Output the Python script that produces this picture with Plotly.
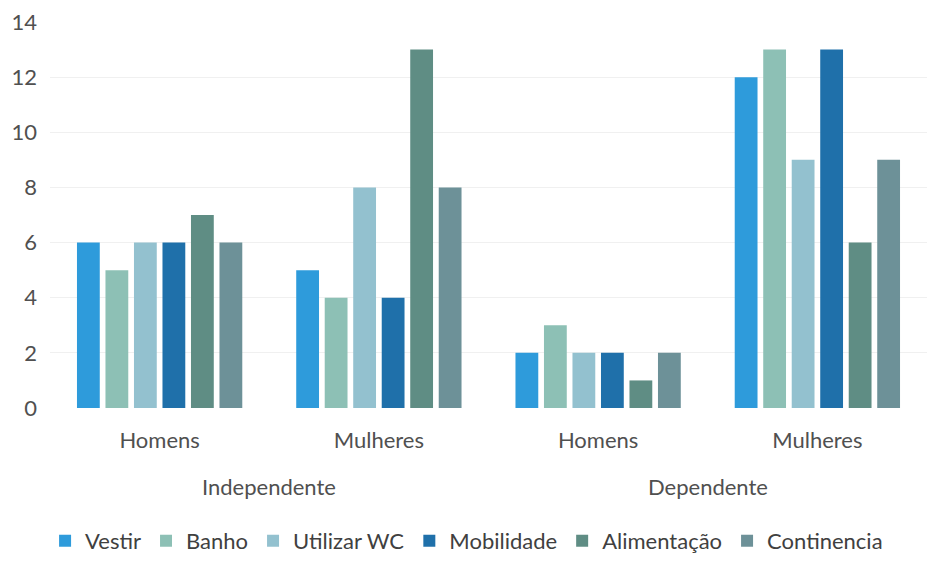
import plotly.graph_objects as go

groups = ["Independente", "Independente", "Dependente", "Dependente"]
sexes = ["Homens", "Mulheres", "Homens", "Mulheres"]
group_labels = ["Independente", "Dependente"]
series_names = ["Vestir", "Banho", "Utilizar WC", "Mobilidade", "Alimentação", "Continencia"]
vestir = [6, 5, 2, 12]
banho = [5, 4, 3, 13]
utilizar_wc = [6, 8, 2, 9]
mobilidade = [6, 4, 2, 13]
alimentacao = [7, 13, 1, 6]
continencia = [6, 8, 2, 9]
y_ticks = [0, 2, 4, 6, 8, 10, 12, 14]

colors = ["#2E9BDB", "#8DC0B5", "#93C1CF", "#1F70AA", "#5F8D84", "#6D9198"]
values = [vestir, banho, utilizar_wc, mobilidade, alimentacao, continencia]

keys = [f"{g} {s}" for g, s in zip(groups, sexes)]

fig = go.Figure()
for name, vals, c in zip(series_names, values, colors):
    fig.add_trace(go.Bar(x=keys, y=vals, name=name, marker_color=c,
                         marker_line_width=0))

# group labels centred under each pair of categories
for i, g in enumerate(group_labels):
    idx = [k for k, gg in enumerate(groups) if gg == g]
    fig.add_annotation(x=sum(idx) / len(idx), xref="x", y=-0.203, yref="paper",
                       yanchor="middle", text=g, showarrow=False,
                       font=dict(size=22, color="#505050"))

font = dict(family="Lato, DejaVu Sans, sans-serif", size=22, color="#505050")
fig.update_layout(
    width=941, height=573,
    margin=dict(l=42, r=22, t=14, b=173),
    paper_bgcolor="white", plot_bgcolor="white",
    barmode="group", bargap=0.22, bargroupgap=0.2,
    font=font,
    showlegend=True,
    legend=dict(orientation="h", x=0.475, xanchor="center", y=-0.29, yanchor="top",
                font=dict(size=22, color="#404040"), itemwidth=30,
                tracegroupgap=0),
    xaxis=dict(type="category", tickvals=keys, ticktext=sexes, showline=False,
               tickfont=dict(size=22), ticks="", automargin=False,
               ticklabelstandoff=17),
    yaxis=dict(range=[0, 14], tickvals=y_ticks, showgrid=True,
               gridcolor="#F0F0F0", zeroline=False, showline=False,
               tickfont=dict(size=22), ticks="", ticklabelstandoff=12,
               automargin=False, ticklabeloverflow="allow"),
)
fig.write_html("out.html")
